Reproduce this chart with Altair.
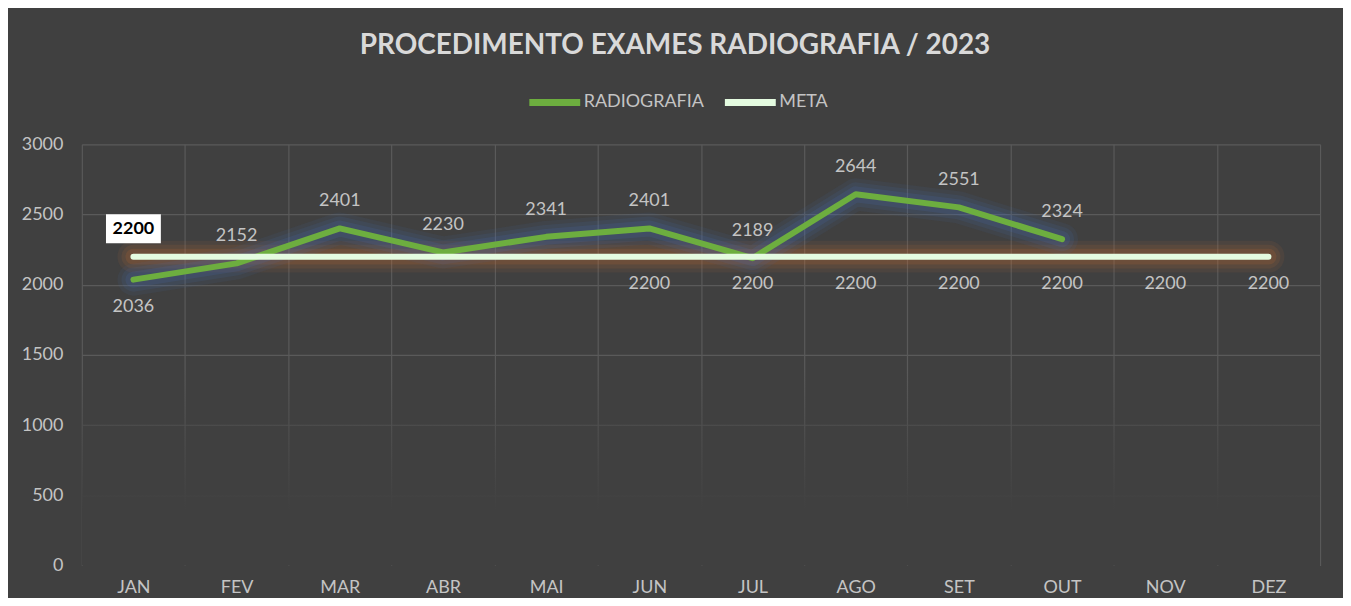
import altair as alt
import pandas as pd

MONTHS = ["JAN", "FEV", "MAR", "ABR", "MAI", "JUN", "JUL", "AGO", "SET", "OUT", "NOV", "DEZ"]
RADIOGRAFIA = [2036, 2152, 2401, 2230, 2341, 2401, 2189, 2644, 2551, 2324, None, None]
META = [2200, 2200, 2200, 2200, 2200, 2200, 2200, 2200, 2200, 2200, 2200, 2200]
META_LABELED = ["JUN", "JUL", "AGO", "SET", "OUT", "NOV", "DEZ"]
META_BOXED = ["JAN"]
RADIO_BELOW = ["JAN"]
SERIES = ["RADIOGRAFIA", "META"]
COLORS = ["#6DAE3F", "#E4FBE0"]
Y_TICKS = [0, 500, 1000, 1500, 2000, 2500, 3000]
TITLE = "PROCEDIMENTO EXAMES RADIOGRAFIA / 2023"

FONT = "Lato"
LABEL_COLOR = "#C4C4C4"
BG = "#404040"

rows = []
for m, r, t in zip(MONTHS, RADIOGRAFIA, META):
    if r is not None:
        rows.append({"mes": m, "serie": "RADIOGRAFIA", "valor": r})
    rows.append({"mes": m, "serie": "META", "valor": t})
df = pd.DataFrame(rows)

x = alt.X("mes:N", sort=MONTHS,
          scale=alt.Scale(type="band", domain=MONTHS, paddingInner=0, paddingOuter=0),
          axis=alt.Axis(title=None))
y = alt.Y("valor:Q", scale=alt.Scale(domain=[0, 3000], nice=False, zero=True),
          axis=alt.Axis(title=None, values=Y_TICKS, format="d",
                        gridOpacity={"condition": {"test": "datum.value <= 0", "value": 0},
                                     "value": 1}))

base = alt.Chart(df).encode(x=x, y=y)
radio = base.transform_filter(alt.datum.serie == "RADIOGRAFIA")
meta = base.transform_filter(alt.datum.serie == "META")

color = alt.Color("serie:N", scale=alt.Scale(domain=SERIES, range=COLORS),
                  legend=alt.Legend(title=None, orient="none", direction="horizontal",
                                    legendX=445, legendY=-71,
                                    symbolType="stroke", symbolSize=2601,
                                    symbolStrokeWidth=7, labelFont=FONT,
                                    labelFontSize=18, labelColor=LABEL_COLOR,
                                    labelOffset=0, columnPadding=6))

fade = alt.Chart(pd.DataFrame({"k": [0]})).mark_rect(
    fill={"gradient": "linear", "x1": 0, "y1": 0, "x2": 0, "y2": 1,
          "stops": [{"offset": 0, "color": "rgba(64,64,64,0)"},
                    {"offset": 0.72, "color": BG},
                    {"offset": 1, "color": BG}]}
).encode(y=alt.datum(1400), y2=alt.datum(0))

glows = []
for w, o in [(32, 0.08), (24, 0.1), (16, 0.14)]:
    glows.append(meta.mark_line(strokeWidth=w, opacity=o, strokeCap="round",
                                strokeJoin="round", color="#D9742E"))
for w, o in [(32, 0.08), (24, 0.1), (16, 0.14)]:
    glows.append(radio.mark_line(strokeWidth=w, opacity=o, strokeCap="round",
                                 strokeJoin="round", color="#4472C4"))

radio_line = radio.mark_line(strokeWidth=6, strokeCap="round", strokeJoin="round").encode(color=color)
meta_line = meta.mark_line(strokeWidth=6, strokeCap="round", strokeJoin="round").encode(color=color)

text_style = dict(font=FONT, fontSize=18, color=LABEL_COLOR)
radio_lab_above = radio.transform_filter(
    ~alt.FieldOneOfPredicate(field="mes", oneOf=RADIO_BELOW)
).mark_text(dy=-27, **text_style).encode(text="valor:Q")
radio_lab_below = radio.transform_filter(
    alt.FieldOneOfPredicate(field="mes", oneOf=RADIO_BELOW)
).mark_text(dy=27, **text_style).encode(text="valor:Q")
meta_lab = meta.transform_filter(
    alt.FieldOneOfPredicate(field="mes", oneOf=META_LABELED)
).mark_text(dy=27, **text_style).encode(text="valor:Q")

meta_box_data = meta.transform_filter(alt.FieldOneOfPredicate(field="mes", oneOf=META_BOXED))
meta_box = meta_box_data.mark_point(
    shape="M-1,-0.53H1V0.53H-1Z", filled=True, color="white", opacity=1,
    size=3025, yOffset=-28, strokeWidth=0)
meta_box_text = meta_box_data.mark_text(
    dy=-28, font=FONT, fontSize=18, fontWeight="bold", color="black").encode(text="valor:Q")

chart = alt.layer(
    fade, *glows, radio_line, meta_line,
    radio_lab_above, radio_lab_below, meta_lab, meta_box, meta_box_text
).properties(
    width=1241, height=422,
    autosize=alt.AutoSizeParams(type="none"),
    padding={"left": 74, "top": 136, "right": 23, "bottom": 32},
    title=alt.TitleParams(TITLE, font=FONT, fontSize=28, fontWeight="bold",
                          color="#D9D9D9", anchor="middle", frame="group",
                          dx=-26, offset=14),
).configure(
    background=BG,
).configure_view(
    stroke="transparent"
).configure_axis(
    labelFont=FONT, labelFontSize=18, labelColor=LABEL_COLOR,
    domain=False, ticks=False, grid=True, gridColor="#5A5A5A", gridWidth=1.2,
).configure_axisX(
    tickBand="extent", labelPadding=13, labelAngle=0,
).configure_axisY(
    labelPadding=19,
)

chart.save("out.html", embed_options={"renderer": "svg", "actions": False})
